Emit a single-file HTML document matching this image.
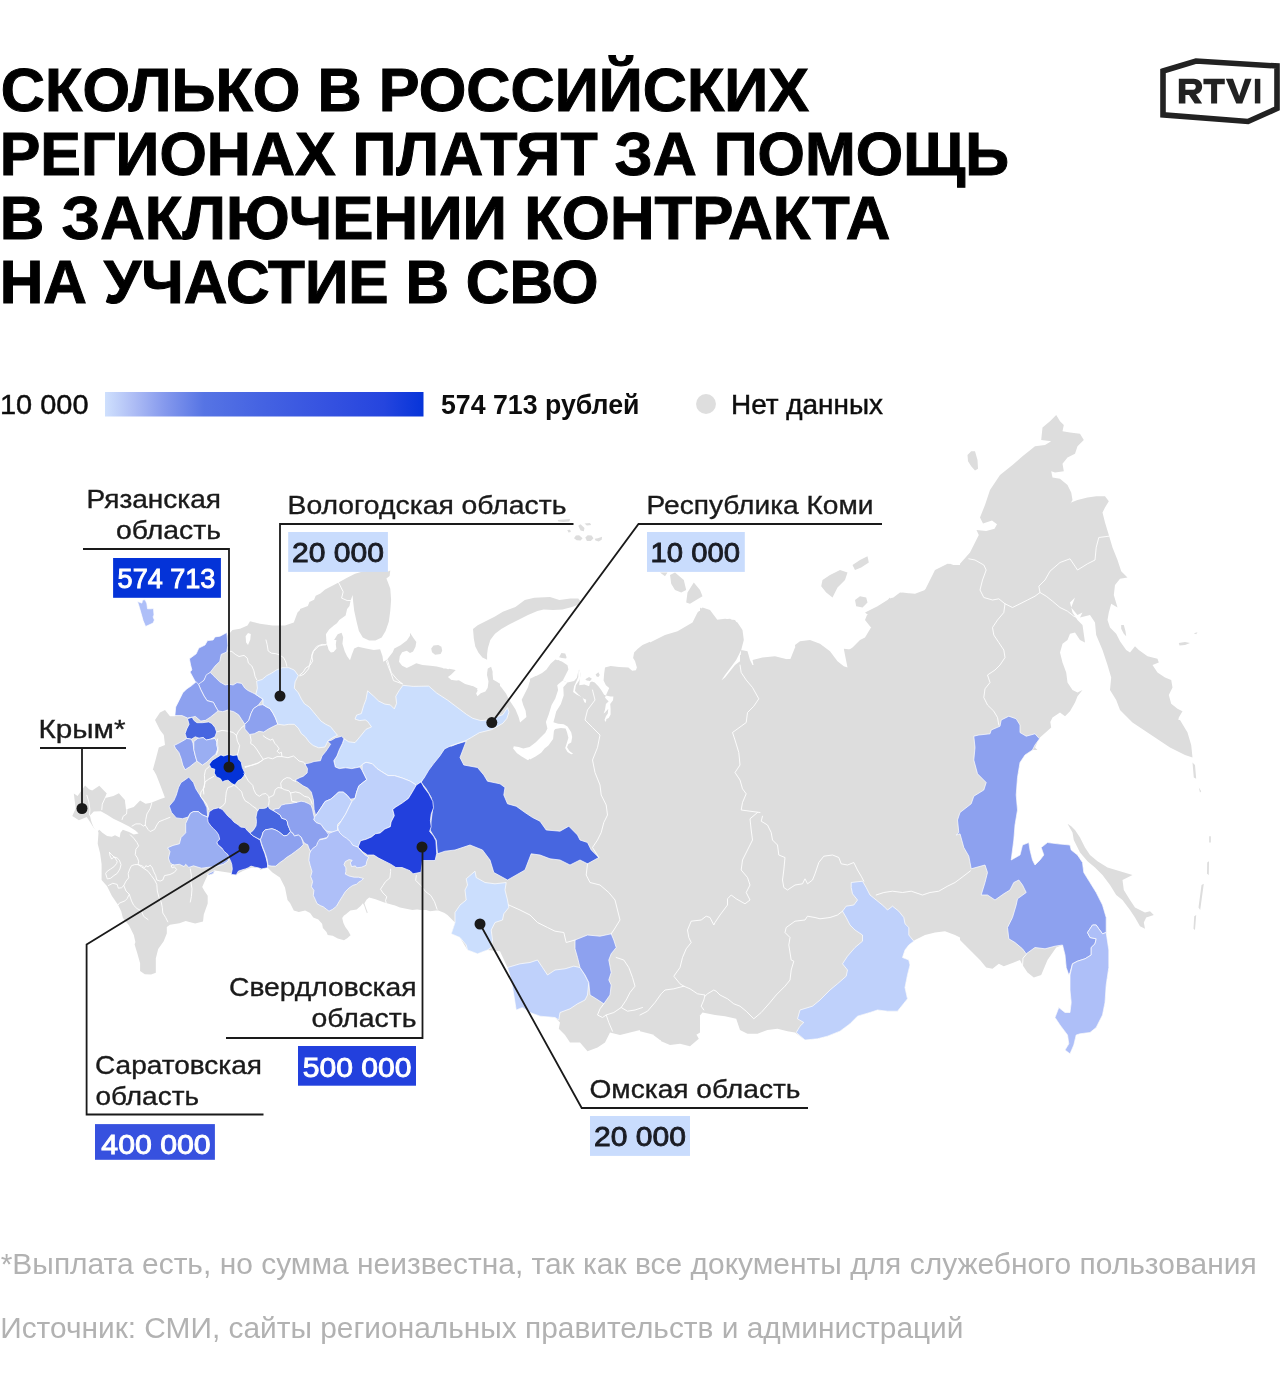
<!DOCTYPE html>
<html lang="ru"><head><meta charset="utf-8"><title>RTVI</title>
<style>
html,body{margin:0;padding:0;background:#fff;}
body{width:1280px;height:1400px;overflow:hidden;position:relative;font-family:"Liberation Sans",sans-serif;}
svg{position:absolute;left:0;top:0;display:block;will-change:transform}
text{font-family:"Liberation Sans",sans-serif;}
.t{font-weight:700;font-size:61.5px;fill:#000;stroke:#000;stroke-width:1px;}
.l{font-size:25.2px;fill:#1a1a1a;stroke:#1a1a1a;stroke-width:.35px}
.lg{font-size:26.8px;fill:#0d0d0d;stroke:#0d0d0d;stroke-width:.45px}
.lgb{font-size:27.3px;fill:#0d0d0d;font-weight:700;}
.v{font-size:26.9px;fill:#1a1c24;stroke:#1a1c24;stroke-width:.85px}
.vw{font-size:26.9px;fill:#fff;stroke:#fff;stroke-width:.9px}
.f{font-size:28.6px;fill:#b2b2b2;}
.ln{fill:none;stroke:#1a1a1a;stroke-width:1.8}
.dot{fill:#1a1a1a}
</style></head><body>
<svg width="1280" height="1400" viewBox="0 0 1280 1400">
<defs><linearGradient id="g" x1="0" x2="1" y1="0" y2="0">
<stop offset="0" stop-color="#cfe0fd"/><stop offset=".09" stop-color="#aebdf5"/><stop offset=".187" stop-color="#8599ed"/><stop offset=".31" stop-color="#5674e4"/><stop offset=".5" stop-color="#4462e2"/><stop offset=".71" stop-color="#3451e0"/><stop offset=".877" stop-color="#2545de"/><stop offset="1" stop-color="#0634d9"/></linearGradient></defs>
<!-- title -->
<text class="t" x="0.8" y="111.3" textLength="808.4" lengthAdjust="spacingAndGlyphs">СКОЛЬКО В РОССИЙСКИХ</text>
<text class="t" x="-0.3" y="175.2" textLength="1009.5" lengthAdjust="spacingAndGlyphs">РЕГИОНАХ ПЛАТЯТ ЗА ПОМОЩЬ</text>
<text class="t" x="-0.3" y="239.4" textLength="890.8" lengthAdjust="spacingAndGlyphs">В ЗАКЛЮЧЕНИИ КОНТРАКТА</text>
<text class="t" x="-0.3" y="303.3" textLength="598.9" lengthAdjust="spacingAndGlyphs">НА УЧАСТИЕ В СВО</text>
<!-- logo -->
<g id="logo">
<path d="M1163,71 L1196,61 L1277,66 L1277,108.5 L1248,121.5 L1163,114.8 Z" fill="none" stroke="#222" stroke-width="5.6" stroke-linejoin="miter"/>
<g transform="translate(1140,40) scale(0.109375)" fill="#222">
<path fill-rule="evenodd" d="M355,355 H490 C545,355 568,390 568,428 C568,462 548,488 512,497 L568,580 H500 L448,502 H415 V580 H355 Z M415,402 V455 H485 C503,455 510,442 510,428 C510,414 503,402 485,402 Z"/>
<path d="M580,355 H775 V405 H705 V580 H650 V405 H580 Z"/>
<path d="M785,355 H850 L907,512 L960,355 H1020 L935,580 H880 Z"/>
<path d="M1050,355 H1100 V580 H1050 Z"/>
</g>
</g>
<!-- legend -->
<text class="lg" x="0" y="413.7" textLength="88.5" lengthAdjust="spacingAndGlyphs">10 000</text>
<rect x="105" y="392" width="318.5" height="24.5" fill="url(#g)"/>
<text class="lgb" x="441" y="413.7" textLength="198.5" lengthAdjust="spacingAndGlyphs">574 713 рублей</text>
<circle cx="706" cy="404" r="9.95" fill="#dedede"/>
<text class="lg" x="731" y="413.7" textLength="152" lengthAdjust="spacingAndGlyphs">Нет данных</text>
<!-- map -->
<g id="map">
<path d="M72.3,815.9 75.7,808.5 73.8,793.6 77.6,795.9 85.1,785.4 89.1,789.2 92.2,790.4 99.3,785.7 106.8,793.6 105.2,798 113.4,795.9 118.9,793.3 124.9,799.9 126,809.6 133.8,806.9 140.1,800.6 145.6,803.8 151.1,802.7 160.5,799.1 164.9,797.5 162.1,790.1 160.5,785.7 156.2,774.7 153.5,770 260,770 260,868.2 251.7,867.4 243.8,870.5 237.5,873.7 236,875.6 231.2,872.9 214.8,870.5 213.2,874 207.7,874.9 205.3,880 202.2,887 204.5,891 207.7,895.7 207.7,903.5 203.8,914.5 203,921.6 195.1,923.5 185.7,921.1 179.4,923.2 170,924.8 166.8,927.1 166.8,933.4 163.7,941.2 158.2,949.1 155.8,958.5 155.8,972.7 151.1,974.6 144.8,974.2 140.1,971.1 140.1,963.2 137,952.2 134.6,944.4 135.4,942 133.8,935 129.1,925.5 122.8,917.7 121.3,911.4 118.1,905.1 111.8,895.7 107.1,886.3 101.6,880 101.6,864.3 100.1,853.3 97.7,843.8 98.5,832.8 97.7,830.5 93.8,828.1 89.9,821.8 86.7,817.1 78.9,820.3ZM152.8,770 156.2,757.5 158.8,747.5 165,745 163.8,735 160,730 155,720 160,712.5 165,710 170,716.2 175,716.2 177.5,705 182.5,695 188.8,688.8 195,684.2 200,685 197.5,676.2 195,670 193.8,660 198.8,657.5 201.2,650 206.2,648 208.8,643.8 215,642.5 217.5,638 222.5,638 228,635 232.5,630 240,628.8 247.5,625.5 250,621.2 260,623.8 272.5,625.5 285,625.5 293.8,622.5 297.5,612.5 300,610 300,770ZM260,760 450,760 450,916.8 444.6,913.1 437.1,909.9 428.3,909.3 420.7,909.9 413.2,908.7 403.1,907.4 393.1,904.9 384.3,902.4 375.5,899.2 369.2,897.4 366.7,899.5 364.4,903.3 366,908 367.7,912.4 366.9,913.3 365.4,909.3 364.2,905.5 362.9,903.3 360.4,906.2 356.6,909.5 350.3,910.6 345.9,914.3 344,915.6 342.2,918.1 343.4,923.1 345.3,926.9 348.1,930.7 350.6,935.3 347.2,938.2 344,940.3 337.8,938.5 332.7,935.7 327.7,935.1 326.5,931.9 322.9,928.1 322.1,923.8 318.3,919.4 313.3,917.5 310.1,913.1 305.1,910.6 298.8,912.1 293.8,910.6 290,903 287.5,900 285,887.6 279.9,877.5 272.5,872.5 267.5,867.4 260,870ZM300,609.1 307.9,606 309.4,602.1 314.1,599.7 315.7,595.8 320.4,593.4 325.1,589.5 331.4,586.3 338.5,582.4 347.1,577.7 355,573.8 362.8,571.4 375.4,570.6 388,571.4 390.3,570.6 389.6,576.1 386.4,578.5 388,582.4 390.3,588.7 391.1,599.7 390.3,610.7 388.8,621.7 385.6,631.1 381.7,637.4 375.4,640.5 369.1,640.5 362.8,637.4 358.9,631.1 356.6,621.7 354.2,610.7 353.1,601.3 352.6,595 350.6,600.5 349.5,606 347.1,609.1 345.6,615.4 339.3,620.1 336.9,623.3 333.8,625.6 329.1,629.6 325.9,634.3 326.7,643.7 329.1,650 333,652.3 334.6,646.8 333.8,640.5 337.7,634.3 341.6,632.7 343.2,637.4 342.4,643.7 344.8,651.5 347.1,656.3 350,660.2 351.8,654.7 354.2,648.4 358.1,646.8 366,648.4 373.8,650 380.1,649.2 382.5,656.3 383.3,661.8 387.2,659.4 389.6,656.3 392.7,652.3 394.3,648.4 400.5,645.3 406.8,640.5 410,635.8 410,632.7 413.1,637.4 416.3,642.1 415.5,646.8 413.1,651.5 410,653.1 406.8,650.8 402.1,652.3 399.8,656.3 399,661.8 402.1,665.7 406.8,668 411.5,665.7 416.3,663.3 422.5,664.9 430.4,665.7 436.7,666.5 443,668 444.5,671.2 449.3,668.8 455.5,670.1 450.8,673.5 446.9,676.7 450.8,679.8 455.5,680.6 460.3,683 466.5,685.3 472.8,686.1 477.5,688.5 476,693.2 477.5,696.3 480.7,693.2 485.4,691.6 487.7,687.7 488.5,681.4 487,675.1 487.7,668.8 490.9,667.3 492.5,673.5 493.2,679.8 496.4,681.4 500,683.8 500,760 300,760ZM431.2,648.4 433.5,645.6 438.3,644.9 441.4,646.8 442.2,650.8 440.6,653.9 435.1,654.7 432,652.3ZM440,668.4 446.3,668.4 449.4,670.8 455.7,670 451,674.7 447.9,677 452.6,681 458.9,680.2 465.1,684.1 471.4,685.7 477.7,690.4 475.3,695.1 477.7,696.7 482.4,693.5 487.1,690.4 488.7,684.1 491.8,681.8 496.6,682.5 501.3,687.3 506,693.5 509.1,699.8 512.3,704.5 515.4,709.3 518.6,717.1 520.1,722.6 526.4,717.1 525.6,710.8 523.3,705.3 521.7,699.8 524.8,693.5 528,687.3 529.6,681.8 534.3,677 542.1,673.1 550,666.8 554.7,660.5 559.4,659.9 559.4,780 440,780ZM473,629.1 477.7,625.2 487.1,620.5 495,616.6 502.8,611.8 515.4,607.1 524.8,600.1 534.3,597.7 550,596.9 559.4,600.1 570.4,598.5 578.3,598.5 580.6,601.6 578.3,604.8 572,607.1 562.5,609.5 553.1,610 543.7,609.5 537.4,611.1 528,615 518.6,619.7 509.1,624.4 501.3,629.1 495,633.8 490.3,640.1 487.9,648 487.1,654.3 487.1,659.8 482.4,657.4 478.5,652.7 475.3,646.4 473.8,638.6ZM487.9,668.4 491.1,666.8 492.6,671.5 492.6,677.8 490.3,681 487.9,677.8 487.1,673.1ZM530,678.7 535.6,675.9 541.2,674.1 545.9,670.3 550.6,663.7 555.3,659.5 561.9,661.4 567.5,665.2 568.4,669.4 565.6,675 562.8,680.6 567.5,682.5 574.1,681.1 576.9,677.8 578.3,671.2 579.2,669.4 580.6,674.1 579.7,679.7 579.2,685.3 584.4,684.4 589.1,686.2 590,682.5 591.9,681.4 594.7,682.5 598.4,686.2 601.2,690 604.1,694.7 605.9,695.6 609.2,688.1 605.9,685.3 603.6,680.6 604.1,674.1 605,667.5 610.6,666.1 619.1,667 628.4,667.5 632.2,670.8 635.9,670.3 636.9,667.5 635,660.9 633.1,658.1 634.1,652.5 637.8,648.7 642.5,645 650,641.7 650,761 530,761ZM559.1,657.2 561.4,653 565.2,653.4 566.6,657.2 566.1,658.6 561.9,658.1ZM585.3,679.2 589.1,676.9 591.9,678.7 590,681.1 586.7,680.6ZM595.6,674.5 598.4,672.2 599.8,675 598.4,676.9 596.6,676.4ZM380,724 700,724 700,770 380,770ZM640,647.5 647.5,643.8 665,635 677.5,631.2 692.5,622.5 697.5,612.5 702.5,607.5 710,610 717.5,620 730,618.8 737.5,622.5 742.5,630 743.8,640 741.2,650 736.2,660 732.5,665 725,675 720,682.5 727.5,677.5 735,667.5 740,662.5 740,655 747.5,651.2 750,660 752.5,665 760,660 775,656.2 790,660 795,647.5 800,642.5 812.5,641.2 822.5,647.5 825,652.5 830,660 840,665 847.5,667.5 845,652.5 852.5,647.5 860,640 865,637.5 872.5,625 871.2,617.5 865,612.5 875,607.5 885,602.5 890,597.5 892.5,610 890,600 900,592.5 915,593.8 925,590 930,580 935,570 947.5,563.8 960,565 960,750 640,750ZM822.5,580 830,575 840,570 847.5,572.5 845,580 837.5,587.5 832.5,597.5 826.2,592.5 821.2,586.2ZM852.5,565 860,560 867.5,556.2 868.8,562.5 861.2,567.5 855,570ZM855,600 860,596.2 866.2,597.5 867.5,602.5 862.5,607.5 856.2,606.2ZM670,575 675,572.5 683.8,580 686.2,590 681.2,592.5 675,590 671.2,583.8ZM687.5,592.5 693.8,582.5 700,590 702.5,596.2 696.2,600 690,603.8 686.2,602.5ZM660,572.5 667.5,572.5 665,576.2ZM574,538.3 575.9,535.5 579.1,535.2 582.6,538.3 580.6,540.6 576.7,540.2ZM585.3,537.5 587.7,535.2 591.6,535.5 593.5,538.3 590.8,541 586.9,541ZM594.7,538.7 597.8,538.3 602.1,536.7 601.7,539.8 598.6,541.4 595.5,540.6ZM557.6,519.9 563.4,519.5 570.1,519.1 569.3,521.5 563.4,521.9 558.4,521.5ZM567.3,530.1 570.1,529.8 570.9,532 568.5,532.4ZM578.3,525.8 580.6,524.2 584.5,528.1 583.8,531.2 580.6,530.5ZM584.5,523.4 590,523 591.2,525 586.9,525.4ZM700,607.5 707.5,613.8 715,620 725,618.8 735,620 742.5,631.2 743.8,640 737.5,652.5 730,665 721.2,677.5 718.8,682.5 725,677.5 735,665 740,661.2 741.2,650 747.5,651.2 746.2,658.8 753.8,666.2 752.5,660 762.5,657.5 775,656.2 775,661.2 785,660 796.2,656.2 795,645 800,641.2 810,640 820,643.8 830,651.2 837.5,661.2 843.8,666.2 847.5,667.5 845,655 843.8,648.8 855,650 862.5,642.5 870,640 875,632.5 870,626.2 865,620 867.5,613.8 877.5,606.2 887.5,600 892.5,597.5 893.8,610 892.5,600 902.5,592.5 912.5,593.8 922.5,592.5 928.8,585 932.5,575 940,567.5 950,563.8 960,567.5 968.8,562.5 972.5,560 1000,560 1000,910 700,910ZM960,563.8 970,552.5 978.8,535 976.5,530 986.2,531 994.5,528.8 997,524.2 992,520.5 983,523.5 980,517.5 985,505 990,490 1000,475 1012.5,465 1022.5,456.2 1028.8,451.2 1035,446.2 1045,445 1051.2,441.2 1041.2,440 1042.5,427.5 1050,421.2 1056.2,415 1060,421.2 1063.8,425 1062.5,431.2 1070,432.5 1080,433.8 1083.8,440 1077.5,446.2 1075,453.8 1067.5,457.5 1062.5,463.8 1063.8,471.2 1055,472.5 1051.2,471.2 1052.5,477.5 1060,478.8 1067.5,485 1071.2,492.5 1072.5,500 1068.8,506.2 1066.2,510 1071.2,502.5 1077.5,500 1087.5,497.5 1096.2,496.2 1105,496.2 1108.8,501.2 1105,507.5 1102.5,512.5 1105,522.5 1108.8,535 1112.5,547.5 1117.5,560 1121.2,571.2 1127.5,577.5 1120,578.8 1115,585 1113.8,595 1117.5,607.5 1111.2,603.8 1108.8,612.5 1107.5,620 1110,627.5 1116.2,633.8 1120,641.2 1126.2,650 1130,652.5 1135,646.2 1138.8,650 1147.5,656.2 1157.5,658.8 1158.8,662.5 1152.5,665 1157.5,672.5 1165,677.5 1171.2,680 1172.5,687.5 1168.8,695 1171.2,703.8 1177.5,708.8 1182.5,711.2 1178.8,717.5 1177.5,725 1183.8,730 1188.8,737.5 1191.2,750 1177.5,750 1165,741.2 1147.5,732.5 1132.5,722.5 1120,710 1116.2,700 1110,690 1111.2,677.5 1107.5,665 1102.5,650 1096.2,635 1095,622.5 1090,615 1080,617.5 1082.5,612.5 1077.5,615 1071.2,607.5 1075,597.5 1070,602.5 1072.5,612.5 1077.5,620 1082.5,625 1085,642.5 1080,640 1075,632.5 1070,633.8 1067.5,640 1062.5,643.8 1060,652.5 1062.5,662.5 1066.2,672.5 1067.5,682.5 1072.5,690 1077.5,692.5 1082.5,690 1077.5,696.2 1075,702.5 1070,711.2 1065,716.2 1060,712.5 1052.5,717.5 1048.8,725 1047.5,730 1040,736.2 1035,747.5 1037.5,750 960,750ZM967.5,455 971.2,451.2 975,451.2 977.5,460 978,468.8 975,470.5 971.2,466.2 968,461.2ZM1178.8,643 1185,642 1190,643 1185,645 1179.5,645.5ZM1121.2,625 1123.8,625 1125.5,631.2 1126.2,636.2 1123.8,633.8 1121.2,628.8ZM1193.8,633.2 1197.5,632.2 1196.2,634.2ZM960,720 1050,720 1051.2,727.5 1040,737.5 1035,745 1032.5,750 1025,755 1020,762.5 1017.5,777.5 1016.2,795 1017.5,810 1015,825 1013.8,840 1012.5,850 1011.2,860 1020,855 1022.5,845 1028.8,842.5 1030,850 1032.5,860 1035,865 1040,860 1043.8,855 1041.2,847.5 1047.5,842.5 1057.5,843.8 1070,845 1071.2,850 1077.5,855 1082.5,862.5 1083.8,872.5 1090,882.5 1096.2,892.5 1102.5,905 1106.2,917.5 1106.2,935 1108.8,950 1108.8,967.5 1106.2,985 1105,1002.5 1102.5,1015 1096.2,1027.5 1090,1032.5 1080,1033.8 1076.2,1035 1073.8,1045 1070,1053.8 1065,1050 1068.8,1043.8 1067.5,1035 1060,1025 1055,1017.5 1058.8,1007.5 1065,1012.5 1070,1012.5 1071.2,1002.5 1070,990 1070,975 1066.2,967.5 1065,955 1062.5,945 1056.2,947.5 1047.5,960 1041.2,975 1033.8,977.5 1027.5,972.5 1022.5,965 1020,960 1013.8,962.5 1003.8,966.2 998.8,963.8 992.5,968.8 986.2,967.5 980,960 972.5,952.5 965,945 960,940ZM1067.5,823.8 1071.2,826.2 1075,830 1080,837.5 1085,847.5 1090,855 1097.5,861.2 1107.5,867.5 1120,871.2 1132.5,875 1122.5,880 1123.8,890 1130,900 1135,907.5 1145,912.5 1150,911.2 1153.8,915 1146.2,917.5 1143.8,922.5 1145,928.8 1140,926.2 1135,917.5 1130,910 1122.5,900 1116.2,895 1110,885 1102.5,875 1095,867.5 1087.5,861.2 1080,852.5 1073.8,840 1072.5,832.5ZM1180,720 1187.5,732.5 1191.2,745 1192.5,757.5 1185,755 1170,747.5 1155,737.5 1140,727.5 1130,720ZM1192.5,762.5 1195,765 1196.2,778.8 1193.8,777.5ZM1198.8,787.5 1201.2,791.2 1200,792.5ZM1209.2,836.2 1210.8,836.2 1210.8,842.5 1209.2,842.5ZM1207.2,862.5 1209,861.2 1208.8,875 1207,873.8ZM1201.5,885 1203.8,883.8 1200.2,910 1198.5,907.5ZM1194.2,916.2 1196.2,915 1195,930 1193.5,928.8ZM640,720 960,720 960,937.5 955,935 945,931.2 935,932.5 925,935 915,940 908.8,945 905,950 902.5,957.5 908.8,960 910,965 907.5,975 905,987.5 907.5,998.8 902.5,1005 897.5,1011.2 887.5,1011.2 877.5,1010 870,1012.5 857.5,1016.2 850,1023.8 840,1031.2 827.5,1036.2 817.5,1038.8 805,1040 795,1032.5 787.5,1031.2 777.5,1028.8 767.5,1030 757.5,1033.8 747.5,1033.8 740,1030 736.2,1018.8 725,1016.2 715,1015 702.5,1012.5 696.2,1020 693.8,1030 698.8,1038.8 690,1046.2 680,1043.8 670,1045 661.2,1041.2 658.8,1036.2 650,1033.8 640,1031.2ZM380,760 700,760 700,1032.5 690,1038.8 680,1042.5 670,1043.8 660,1040 650,1032.5 640,1030 630,1032.5 620,1035 610,1032.5 605,1042.5 597.5,1047.5 587.5,1051.2 580,1042.5 570,1042.5 565,1035 558.8,1028.8 560,1022.5 555,1017.5 540,1016.2 530,1012.5 522.5,1007.5 516.2,1010 512.5,980 507.5,967.5 500,951.2 487.5,950 477.5,953.8 467.5,950 460,937.5 451.2,933.8 455,922.5 447.5,915 440,910 430,911.2 422.5,908.8 412.5,910 400,907.5 387.5,902.5 380,900Z" fill="#dddddd"/>
<path d="M89.9,815.6 93.8,811.6 100.8,811.2 107.1,814.8 113.4,818.7 121.3,822.6 129.1,826.6 135.4,830.5 138.6,833.6 133.8,834.4 129.1,832.1 122.8,829.7 120.5,832.8 119.7,837.6 115,835.2 111.8,836.8 107.1,836 102.4,832.8 99.3,829.7 97.7,831.3 93.8,828.1 91.4,821.8ZM562.8,680.6 567.5,682.5 563.3,687.2 563.7,695.6 560.9,704.1 556.2,711.6 554.8,717.2 553.4,722.3 558.1,723.7 563.7,724.2 567.5,726.6 571.2,732.2 572.2,736.9 571.2,742.5 568.4,743.9 567,747.2 569.4,750.9 573.1,753.7 571.2,754.2 567.5,751.9 565.2,748.1 567,742.5 568.4,737.8 567,732.2 565.6,728.4 560.9,728 555.3,728.9 552.5,732.2 552.5,737.8 549.7,742.5 545,748.1 541.2,752.8 535.6,756.6 530,759.4 530,749.1 535.6,745.3 541.2,739.7 544.1,734.1 547.8,730.3 545.9,721.9 548.7,714.4 551.6,705 555.3,698.4 558.1,690 557.2,685.3 559.1,683.4ZM579.2,669.4 580.6,674.1 579.7,679.7 575.9,685.3 575,690.9 578.7,694.7 583.4,698.4 586.2,699.8 585.8,703.1 584.4,702.2 582.5,697.5 576.9,694.7 573.1,691.9 574.1,686.2 575.9,682.5 578.3,676.9 578.3,671.2ZM605.9,695.6 610.6,696.6 613.4,696.6 613,700.3 610.2,704.1 610.6,708.7 610.6,714.4 608.7,718.1 606.4,719.1 605.9,721.9 604.5,720 605.9,716.2 607.8,713.4 608.3,708.7 605,712.5 603.6,713.4 605,709.7 605.9,704.1 608.7,701.2 606.9,699.8 605,697.5ZM555.5,726.5 553.9,731.2 553.1,739.1 548.4,745.4 540.5,751.7 534.3,754.8 528,760.3 521.7,756.4 517,753.2 513.1,748.5 513.8,746.2 518.6,747 523.3,748.5 529.6,747 535.8,742.2 540.5,737.5 545.3,732.8 548.4,726.5 550,723.4Z" fill="#fff"/>
<path d="M137.5,601.5 141.9,603.1 142.5,600 145.2,599.8 146.9,603.8 147.5,608.8 151.2,608.8 153.5,608.5 154,615 153.1,616.9 154.4,620 153.1,623.1 145.6,626.5 143.1,620.6 141.2,613.8 139.4,607.5Z" fill="#aebff8" stroke="#fff" stroke-width="0.7" stroke-linejoin="round"/>
<path d="M188.8,777.1 193.5,782.6 195.9,788.9 199.8,795.1 203.8,801.4 206.9,807.7 207.7,817.1 202.2,814.8 198.3,811.6 193.5,811.6 190.4,813.2 188,817.1 182.5,818.7 176.3,817.9 171.5,812.4 169.2,806.1 173.9,800.6 176.3,795.1 178.6,787.3 181,782.6 185.7,779.4Z" fill="#647ee8" stroke="#fff" stroke-width="0.7" stroke-linejoin="round"/>
<path d="M193.5,811.6 198.3,811.6 202.2,814.8 207.7,817.1 211.6,823.4 215.5,828.1 218.7,832.1 221,837.6 217.1,843.1 220.3,847 225,850.1 228.9,855.6 228.1,861.1 223.4,864.3 214.8,866.6 207.7,867.4 201.4,868.2 193.5,865.8 188.8,867.4 185.7,864.3 184.1,866.6 179.4,864.3 173.1,865.1 170,862.7 168.4,858 170,851.7 167.6,847.8 173.1,845.4 179.4,843.8 181,837.6 185.7,832.8 185.7,823.4 190.4,813.2Z" fill="#9aaef2" stroke="#fff" stroke-width="0.7" stroke-linejoin="round"/>
<path d="M206.9,874.5 214.8,870.5 213.2,873.7 209.3,874.9Z" fill="#9aaef2" stroke="#fff" stroke-width="0.7" stroke-linejoin="round"/>
<path d="M973.8,736.2 978.8,735 990,733.8 991.2,730 1000,726.2 1001.2,720 1008.8,716.2 1016.2,718.8 1020,725 1020,732.5 1026.2,736.2 1035,733.8 1039.5,738.8 1035,745 1032.5,750 1025,755 1020,762.5 1017.5,777.5 1016.2,795 1017.5,810 1015,825 1013.8,840 1012.5,850 1011.2,860 1020,855 1022.5,845 1028.8,842.5 1030,850 1032.5,860 1035,865 1040,860 1043.8,855 1041.2,847.5 1047.5,842.5 1057.5,843.8 1070,845 1071.2,850 1077.5,855 1082.5,862.5 1083.8,872.5 1090,882.5 1096.2,892.5 1102.5,905 1106.2,917.5 1106.2,932.5 1102.5,933.8 1098.8,928.8 1096.2,925 1092.5,925 1087.5,932.5 1090,937.5 1096.2,938.8 1095,943.8 1091.2,947.5 1091.2,955 1085,958.8 1077.5,961.2 1072.5,963.8 1070,972.5 1068.8,975 1066.2,967.5 1065,955 1062.5,945 1055,946.2 1045,948.8 1035,947.5 1026.2,953.8 1022.5,948.8 1015,942.5 1008.8,938.8 1007.5,927.5 1012.5,917.5 1016.2,905 1017.5,898.8 1026.2,892.5 1022.5,885 1018.8,880 1013.8,882.5 1010,890 1003.8,893.8 995,900 987.5,895 981.2,895 985,882.5 987.5,872.5 985,865 971.2,868.8 968.8,856.2 963.8,847.5 960,833.8 956.2,835 958.8,832.5 957.5,820 960,812.5 971.2,803.8 973.8,796.2 983.8,790 986.2,782.5 977.5,773.8 973.8,760 975,747.5Z" fill="#8da1ef" stroke="#fff" stroke-width="0.7" stroke-linejoin="round"/>
<path d="M1106.2,932.5 1108.8,950 1108.8,967.5 1106.2,985 1105,1002.5 1102.5,1015 1096.2,1027.5 1090,1032.5 1080,1033.8 1076.2,1035 1073.8,1045 1070,1053.8 1065,1050 1068.8,1043.8 1067.5,1035 1060,1025 1055,1017.5 1058.8,1007.5 1065,1012.5 1070,1012.5 1071.2,1002.5 1070,990 1070,975 1072.5,963.8 1077.5,961.2 1085,958.8 1091.2,955 1091.2,947.5 1095,943.8 1096.2,938.8 1090,937.5 1087.5,932.5 1092.5,925 1096.2,925 1098.8,928.8 1102.5,933.8Z" fill="#aebff8" stroke="#fff" stroke-width="0.7" stroke-linejoin="round"/>
<path d="M851.2,882.5 862.5,881.2 866.2,887.5 870,895 876.2,900 883.8,906.2 887.5,910 892.5,906.2 898.8,911.2 903.8,917.5 905,923.8 908.8,927.5 908.8,935 913.8,941.2 908.8,945 905,950 902.5,957.5 908.8,960 910,965 907.5,975 905,987.5 907.5,998.8 902.5,1005 897.5,1011.2 887.5,1011.2 877.5,1010 870,1012.5 857.5,1016.2 850,1023.8 840,1031.2 827.5,1036.2 817.5,1038.8 805,1040 796.2,1032.5 800,1026.2 803.8,1022.5 797.5,1018.8 800,1010 812.5,1006.2 820,1000 830,990 837.5,983.8 846.2,976.2 847.5,970 842.5,963.8 847.5,956.2 855,947.5 862.5,941.2 862.5,935 855,930 850,925 846.2,917.5 842.5,911.2 846.2,906.2 853.8,905 857.5,900 852.5,893.8 851.2,887.5Z" fill="#bfd1fb" stroke="#fff" stroke-width="0.7" stroke-linejoin="round"/>
<path d="M507.5,967.5 520,963.8 530,962.5 537.5,960 542.5,967.5 547.5,975 555,970 565,968.8 573.8,966.2 580,967.5 585,975 588.8,982.5 587.5,995 585,1000 577.5,1003.8 570,1008.8 560,1012.5 558.8,1020 555,1017.5 540,1016.2 530,1012.5 522.5,1007.5 516.2,1010 513.8,995 511.2,980Z" fill="#bfd1fb" stroke="#fff" stroke-width="0.7" stroke-linejoin="round"/>
<path d="M575,940 587.5,935 600,936.2 611.2,933.8 613.8,940 616.2,947.5 611.2,953.8 608.8,960 611.2,972.5 608.8,980 611.2,985 610,995 603.8,1003.8 596.2,998.8 590,995 588.8,982.5 585,975 580,967.5 577.5,957.5 575,948.8Z" fill="#8da1ef" stroke="#fff" stroke-width="0.7" stroke-linejoin="round"/>
<path d="M475,871.2 476.2,877.5 485,882.5 495,883.8 506.2,882.5 505,890 507.5,900 508.8,907.5 503.8,913.8 502.5,920 495,922.5 491.2,930 492.5,940 491.2,947.5 487.5,950 477.5,953.8 467.5,950 466.2,945 460,937.5 451.2,933.8 455,922.5 455,912.5 460,905 466.2,900 465,890 467.5,885 466.2,878.8Z" fill="#cbdefd" stroke="#fff" stroke-width="0.7" stroke-linejoin="round"/>
<path d="M466.2,741.2 460,757.5 463.8,765 477.5,767.5 483.8,775 487.5,781.2 500,783.8 505,787.5 503.8,795 507.5,803.8 516.2,806.2 525,812.5 532.5,817.5 540,821.2 546.2,830 560,831.2 568.8,826.2 577.5,835 580,840 587.5,842.5 591.2,850 598.8,857.5 587.5,863.8 580,860 570,865 560,860 550,858.8 540,855 531.2,853.8 525,870 507.5,880 493.8,872.5 490,860 482.5,850 470,845 455,850 445,851.2 437.5,853.8 436.2,840 430,830 432.5,810 431.2,797.5 426.2,788.8 421.2,782.5 427.5,767.5 440,752.5 446.2,745 451.2,746.2 457.5,743.8Z" fill="#4766e0" stroke="#fff" stroke-width="0.7" stroke-linejoin="round"/>
<path d="M367.6,690.8 373.8,696.3 378.6,701 384.8,704.1 390.3,704.9 394.3,708.9 396.6,703.4 395.8,696.3 399,690.8 402.9,685.3 413.1,686.4 428.8,686.1 436.7,693.1 447.7,700.2 457.1,707.3 466.5,714.4 472.8,718.3 480.7,720.6 488.5,719.9 496.4,716.7 502.8,714.7 507.5,707.6 509,712 506.8,718.6 502.8,723.3 491.8,729.6 479.3,732.7 471.4,737.4 465.9,740.6 450.8,745.8 444.5,748.9 439.8,756 433.5,763.8 428.8,770.1 424.1,778 421,781.9 416.3,785.1 410,781.1 402.1,778 394.3,775.6 388,775.6 381.7,771.7 377,768.6 372.3,763.8 366,762.3 362.1,764.6 359.7,767 351.8,768.6 345.6,767.8 339.3,768.6 335.3,767 333.8,760.7 336.9,756 339.3,749.7 342.4,743.4 344,738.7 348.7,741.8 355,742.6 359.7,737.1 366,729.3 371.5,726.9 367.6,721.4 365.2,719.9 359.7,720.6 355,719.1 356.6,715.1 361.3,713.6 363.6,705.7 366,699.4Z" fill="#cbdefd" stroke="#fff" stroke-width="0.7" stroke-linejoin="round"/>
<path d="M341.6,736.3 344,738.7 342.4,743.4 339.3,749.7 336.9,756 333.8,760.7 335.3,767 339.3,768.6 345.6,767.8 351.8,768.6 359.7,767 362.1,770.1 366.8,779.6 362.8,782.7 358.9,785.8 356.6,792.1 355,798.4 350.3,799.2 347.1,795.3 343.2,792.1 338.5,792.1 335.3,795.3 330.6,799.2 325.1,801.5 322,806.3 318.9,811 315.7,815.7 314.1,809.4 313.4,800 311.3,792.1 307.9,788.2 303.1,785.8 295,780 300,777.5 303.1,776.4 307.1,773 307.5,768.6 304.7,763.8 309.4,763.1 314.1,761.5 320.4,760.7 322,756 325.9,751.3 330.6,744.2 327.5,741.1 331.4,740.3 335.3,737.9Z" fill="#647ee8" stroke="#fff" stroke-width="0.7" stroke-linejoin="round"/>
<path d="M338.5,792.1 343.2,792.1 347.1,795.3 350.3,799.2 351.8,801.5 348.7,807.8 345.6,814.1 341.6,820.4 337.7,824.3 337.4,830.6 333,832.2 326.4,831.1 323.6,828.3 320.9,824.5 316.5,822.8 313.7,819.9 314.3,817.1 315.7,815.7 318.9,811 322,806.3 325.1,801.5 330.6,799.2 335.3,795.3Z" fill="#bfd1fb" stroke="#fff" stroke-width="0.7" stroke-linejoin="round"/>
<path d="M362.1,764.6 366,762.3 372.3,763.8 377,768.6 381.7,771.7 388,775.6 394.3,775.6 402.1,778 410,781.1 416.3,785.1 412.3,792.1 408.4,798.4 402.1,803.1 395.8,807 392.7,809.4 394.3,815.7 391.1,822 390.3,826.7 384.8,829 380.1,833 375.4,833.8 371.5,836.9 366,839.3 360.5,840.8 358.1,847.1 353.4,846.3 350,842.1 345.6,838.9 340.5,834.5 338.3,830.1 337.7,826.7 341.6,820.4 345.6,814.1 348.7,807.8 351.8,801.5 355,798.4 356.6,792.1 358.9,785.8 362.8,782.7 366.8,779.6 362.1,770.1Z" fill="#bfd1fb" stroke="#fff" stroke-width="0.7" stroke-linejoin="round"/>
<path d="M421,781.9 424.1,787.4 428.8,793.7 432.8,801.5 433.5,807.8 431.2,814.1 430.4,820.4 431.2,826.7 429.6,831.4 433.5,836.1 435.9,840.8 436.7,853.4 435.1,860.5 422.5,860.5 421,872.2 413.1,873.8 410,870.7 402.1,867.5 395.8,867.5 391.1,864.4 384.8,861.2 378.6,858.1 373.8,855 367.6,855 362.8,851.8 358.1,847.1 360.5,840.8 366,839.3 371.5,836.9 375.4,833.8 380.1,833 384.8,829 390.3,826.7 391.1,822 394.3,815.7 392.7,809.4 395.8,807 402.1,803.1 408.4,798.4 412.3,792.1 416.3,785.1Z" fill="#2240dd" stroke="#fff" stroke-width="0.7" stroke-linejoin="round"/>
<path d="M326.5,830.7 329,833.3 334,831.4 338.4,830.1 339.6,832.6 342.8,835.8 346.6,838.3 350.3,841.4 352.8,845.2 357.9,847.1 361.6,851.5 365.4,855.2 368.6,857.1 366.7,861.5 366,865.3 361.6,867.2 356.6,867.8 355.4,865.9 351.6,866.6 350.3,862.8 352.2,860.3 349.1,859.6 345.3,861.5 344,864.7 345.9,867.8 345.9,871.6 345.3,874.1 349.1,876 354.1,877.2 358.5,877.2 363.5,878.5 361.6,880.4 358.5,882.3 356.6,884.2 352.8,885.4 349.1,887.9 345.3,891.7 342.2,896.7 339,901.8 336.5,906.2 332.7,909.3 329,911.2 326.5,909.3 323.3,906.8 320.2,905.5 317,903.6 315.1,899.2 313.3,895.5 313.9,890.4 311.4,886.7 312.6,881.6 310.7,876.6 312,871.6 310.1,865.3 308.9,860.3 309.5,854 311.4,849 315.1,846.5 317,843.9 316.4,840.2 321.4,839.5 326.5,838.3 328.3,835.8 325.2,833.9Z" fill="#aebff8" stroke="#fff" stroke-width="0.7" stroke-linejoin="round"/>
<path d="M227.5,640 227.8,645.8 226.8,652 221.2,654.4 219.8,661.4 215,666.1 210.2,672.4 206.4,676.2 204,680.2 198.8,685.2 196.2,683.1 194.4,680 190,671.9 191.9,670 190.6,665 189.4,658.8 196.2,653.8 198.8,648.1 205,645 207.5,640.6 213.1,640 215,636.9 220,636.2 226.9,632.5Z" fill="#8da1ef" stroke="#fff" stroke-width="0.7" stroke-linejoin="round"/>
<path d="M212.6,674.8 215,677.1 219.7,681.8 225.2,685 229.1,684.2 233.1,685 237,682.6 241.7,683.4 244.8,688.1 248,690.5 252.7,692.8 255.8,694.4 260.5,697.6 262.9,699.1 258.2,705.4 253.5,708.6 251.1,713.3 248.8,720.3 244.8,724.3 241.7,719.6 238.6,714.8 233.8,711.7 227.6,710.1 222.8,711.7 218.1,710.9 215.8,707 213.4,702.3 207.1,700.7 204,696 200.8,689.7 198.5,684.2 204,680.3 206.3,674.8 210.3,672.4Z" fill="#8da1ef" stroke="#fff" stroke-width="0.7" stroke-linejoin="round"/>
<path d="M196.1,681.8 198.5,684.2 200.8,689.7 204,696 207.1,700.7 213.4,702.3 215.8,707 218.1,710.9 214.2,714.1 210.3,717.2 205.6,720.3 200.8,721.1 195.3,716.4 192.2,717.2 187.5,718 182,715.6 174.9,715.6 175.7,707 178.9,700.7 182.8,692.8 186.7,688.9 191.4,685.8Z" fill="#8da1ef" stroke="#fff" stroke-width="0.7" stroke-linejoin="round"/>
<path d="M258.2,705.4 262.9,704.6 266.8,707 270,708.6 273.1,713.3 275.5,718 277.8,724.3 273.1,726.6 268.4,729 263.7,732.1 259,731.3 254.3,733.7 249.6,734.5 244.8,729 244.8,724.3 248.8,720.3 251.1,713.3 253.5,708.6Z" fill="#8da1ef" stroke="#fff" stroke-width="0.7" stroke-linejoin="round"/>
<path d="M187.5,718.8 192.2,717.2 193.8,720.3 196.9,722.7 202.4,722.7 208.7,721.9 211.8,723.5 215,727.4 216.6,732.1 215,736.8 210.3,739.2 206.3,740 203.2,737.6 199.3,738.4 195.3,736.8 191.4,739.2 186.7,738.4 185.1,733.7 186.7,729 189.1,724.3Z" fill="#4766e0" stroke="#fff" stroke-width="0.7" stroke-linejoin="round"/>
<path d="M174.1,745.5 178.9,743.1 184.4,740 186.7,738.4 191.4,739.2 193,743.1 193.8,749.4 195.3,755.7 196.9,761.2 193.8,763.5 189.9,766.7 185.1,769.8 182.8,765.1 181.2,758.8 178.9,752.5 175.7,748.6Z" fill="#8da1ef" stroke="#fff" stroke-width="0.7" stroke-linejoin="round"/>
<path d="M193.8,741.5 197.7,738.4 203.2,737.6 206.3,740 210.3,739.2 215,738.4 217.3,743.1 218.1,747.8 215.8,754.1 211.8,757.3 207.1,762 202.4,765.1 199.3,762.8 196.9,761.2 195.3,755.7 193.8,749.4Z" fill="#9aaef2" stroke="#fff" stroke-width="0.7" stroke-linejoin="round"/>
<path d="M209.3,764.3 212.1,760.4 216.5,757.7 220.9,754.9 223.6,756 228.6,754.4 233,755.5 237.4,754.9 238.5,759.3 241.2,762.1 242.3,767.6 245.1,773.6 243.4,776.4 241.2,779.1 237.9,780.8 234.6,785.2 231.3,783 228,780.2 224.7,780.8 222.5,781.9 220.3,778.6 216.5,776.9 214.3,773.1 214.8,769.2 211,768.1Z" fill="#0433d8" stroke="#fff" stroke-width="0.7" stroke-linejoin="round"/>
<path d="M256.6,681.1 262.1,679.5 266.8,675.6 271.5,673.2 276.3,670.1 282.5,667.7 288.8,667.7 294.3,670.1 298.3,675.6 295.1,681.8 294.3,688.1 298.3,692.8 301.4,699.1 304.5,703.8 309.3,707 313.2,711.7 317.1,716.4 321,721.1 325.8,724.3 330.5,726.6 333.6,730.5 337.5,735.3 332.8,737.6 328.1,740.8 326.5,743.9 325,747 318.7,747.8 313.2,745.5 309.3,742.3 305.3,736.8 301.4,733.7 298.3,728.2 294.3,724.3 288.8,724.3 284.1,725.1 278.6,724.3 277.8,724.3 275.5,718 273.1,713.3 270,708.6 266.8,707 262.9,704.6 262.9,699.1 260.5,697.6 255.8,694.4 257.4,688.1Z" fill="#cbdefd" stroke="#fff" stroke-width="0.7" stroke-linejoin="round"/>
<path d="M209.2,811.7 213.6,808.9 218.6,807.8 222.4,809.5 225.2,812.8 227.9,816.1 231.2,818.8 234,822.1 238.4,824.9 240.6,827.1 245,827.6 247.2,830.4 249.9,833.1 253.2,835.9 257.1,838.1 260.4,840.3 261.5,844.7 263.1,849.1 264.8,853.5 266.4,859 267.5,863.9 267.5,867.8 264.8,868.3 261.5,868.9 258.2,867.8 254.9,867.2 251,866.1 248.3,867.8 245.5,868.9 241.7,870 238.4,871.1 236.2,874.9 231.2,874.4 232.3,868.9 231.8,864.5 230.7,861.2 229,857.9 227.9,854.6 224.1,851.3 221.9,848 219.7,846.3 217.5,844.1 216.9,841.9 219.7,839.2 218.6,834.8 216.4,831.5 213.6,828.7 210.9,826 208.1,822.1 207.6,818.3 208.7,815Z" fill="#3751de" stroke="#fff" stroke-width="0.7" stroke-linejoin="round"/>
<path d="M268.1,805.6 269.2,808.4 271.9,810 275.2,811.7 276.9,812.8 280.2,815 281.8,818.3 285.7,819.4 287.3,821.6 287.9,824.9 289.5,828.7 290.6,831.5 287.3,835.3 284,835.9 281.3,833.7 278.5,831.5 275.2,829.8 271.9,828.7 268.6,829.3 265.3,829.8 263.1,832 262,835.9 260.4,839.7 257.1,838.1 253.2,835.9 249.9,833.1 253.2,830.4 256,826 256.5,821.6 256,817.2 257.1,811.7 259.3,808.4 263.7,808.4 266.4,807.8Z" fill="#4766e0" stroke="#fff" stroke-width="0.7" stroke-linejoin="round"/>
<path d="M263.1,832 265.3,829.8 268.6,829.3 271.9,828.7 275.2,829.8 278.5,831.5 281.3,833.7 284,835.9 287.3,835.3 290.6,831.5 292.8,833.1 294.5,835.9 298.3,834.8 301.1,837 302.7,841.4 303.3,844.7 300,848 295.6,851.3 291.2,854.6 286.8,857.3 283.5,860.1 279.6,862.8 275.8,866.1 271.9,866.1 268.1,865.6 267,859 265.3,853.5 263.1,848 261.5,843.6 260.4,839.7 262,835.9Z" fill="#8da1ef" stroke="#fff" stroke-width="0.7" stroke-linejoin="round"/>
<path d="M273,810 275.2,808.9 279.1,808.4 281.3,805.1 285.7,804 291.2,803.4 296.7,802.3 301.1,801.2 304.4,801.8 308.2,803.4 311,805.1 312.6,809.5 313.2,812.8 314.3,817.2 313.7,819.9 316.5,822.7 320.9,824.3 323.6,828.2 326.4,831.5 328.6,834.8 326.9,837.5 323.1,838.6 319.8,839.2 317.6,842.5 316.5,845.8 313.2,848 310.4,851.3 308.8,848 307.7,844.7 304.9,843.6 303.3,841.4 301.1,837 298.3,834.8 294.5,835.9 292.8,833.1 290.6,831.5 289.5,828.7 287.9,824.9 287.3,821.6 285.7,819.4 281.8,818.3 280.2,815 276.9,812.8 275.2,811.7Z" fill="#8da1ef" stroke="#fff" stroke-width="0.7" stroke-linejoin="round"/>
<path d="M740,665 741.2,672.5 746.2,680 752.5,687.5 758.8,698.8 753.8,706.2 747.5,712.5 746.2,722.5 741.2,726.2 732.5,732.5 735,740 738.8,752.5 740,765 735,772.5 740,780 742.5,788.8 746.2,793.8 742.5,802.5 741.2,810 750,811.2 760,812.5M757.5,812.5 750,818.8 751.2,830 752.5,840 747.5,850 742.5,860 741.2,870 747.5,877.5 750,885 746.2,892.5 750,900 745,903.8 736.2,898.8 731.2,895 727.5,898.8 727.5,905 720,915 715,922.5 713.8,925 710,917.5 706.2,916.2 701.2,920 691.2,921.2 687.5,930 688.8,937.5 691.2,942.5 686.2,948.8 682.5,957.5 680,967.5 673.8,976.2 680,983.8 683.8,986.2 690,988.8 697.5,993.8 705,995 703.8,1000 701.2,1006.2 703.8,1010M762.5,816.2 761.2,821.2 767.5,825 771.2,832.5 772.5,840 777.5,845 778.8,855 785,857.5 783.8,870 782.5,880 783.8,887.5 787.5,890 795,885 802.5,883.8 805,878.8 807.5,883.8 812.5,880 815,873.8 818.8,862.5 823.8,856.2 832.5,855 838.8,857.5 841.2,863.8 847.5,865 853.8,862.5 857.5,870 861.2,876.2 863.8,881.2M842.5,911.2 837.5,915 830,917.5 820,918.8 815,917.5 807.5,916.2 805,920 795,921.2 786.2,927.5 785,932.5 790,937.5 788.8,945 791.2,960 793.8,961.2 791.2,970 790,980 785,986.2 776.2,995 770,1002.5 761.2,1012.5 753.8,1018.8 750,1015 746.2,1011.2 740,1006.2 733.8,1003.8 727.5,998.8 720,995 716.2,991.2 713.8,990 707.5,993.8 705,996.2M640,1015 647.5,1011.2 655,1002.5 661.2,993.8 665,990 673.8,988.8 683.8,986.2M876.2,895 883.8,892.5 892.5,891.2 902.5,892.5 911.2,891.2 922.5,895 930,892.5 938.8,891.2 947.5,886.2 955,882.5 960,878.8 965,875 970.5,870.8M968.8,558.8 975,560 983.8,565 986.2,570 982.5,580 980,590 983.8,597.5 992.5,600 998.8,598.8 1005,603.8 1012.5,607.5 1020,603.8 1027.5,600 1035,596.2 1040,592.5 1038.8,586.2 1045,580 1050,571.2 1060,562.5 1070,558.8 1075,566.2 1077.5,570 1087.5,563.8 1095,560 1096.2,547.5 1098.8,537.5 1108.8,536.2M1040,592.5 1046.2,596.2 1052.5,601.2 1060,607.5 1067.5,611.2 1073.8,616.2 1080,618.8M1005,603.8 1003.8,612.5 997.5,620 992.5,627.5 993.8,635 998.8,642.5 1003.8,650 1005,657.5 1000,665 995,670 987.5,675 990,682.5 985,688.8 983.8,697.5 987.5,705 993.8,711.2 997.5,717.5 998.8,725M592.5,690 595,700 587.5,710 585,720 592.5,727.5 600,735 597.5,747.5 592.5,760 595,772.5 600,785 601.2,795 606.2,805 607.5,815 603.8,822.5 601.2,832.5 597.5,840 592.5,847.5 598.8,857.5M587.5,863.8 586.2,875 590,882.5 600,885 608.8,892.5 615,900 617.5,910 620,920 613.8,930 611.2,933.8M387.5,660 391.2,672.5 397.5,680 402.5,683.8M227.5,651 231.9,651.5 235.2,654.3 239,656.5 244,655.4 247.3,658.1 248.4,663.1 251.7,665.8 253.9,670.8 255,676.3 256.6,679.6M266,640 267.1,644.4 268.2,651 271.5,653.2 275.9,653.7 279.2,654.8 283.6,657.6 285.8,662 286.9,666.4M332,640 328.7,642.7 325.4,644.9 322.1,644.4 318.8,645.5 316.6,646.6 313.3,651 311.6,655.4 312.7,660.9 310,665.3 305.6,668 303.4,671.9 299.5,675.2M217,731.8 222,730.4 227.5,731.1 233,732.4 236.8,735.7M244,725.8 242.3,726.9 238.5,731.3 236.3,735.7 237.4,741.2 239.6,745.6 238.5,751.1 237.4,754.9M250,735.1 251.1,740.1 250.6,743.4 253.9,745.6 257.2,750 259.9,754.4 263.2,759.3M263.2,735.7 266,737.9 270.4,740.1 272.6,739 274.8,743.4 277,745.6 279.2,748.9 277,751.1 279.2,753.3 281.4,752.2 281.9,756.6M245.1,767.6 250.6,765.4 257.2,763.2 261.6,761 263.2,759.3 268.2,757.7 272.6,758.8 277,756.6 281.9,756.6 288,757.7 293.5,756 296.8,758.8 299,761 303.4,762.1 305.6,764.3M209.3,766.5 205.5,769.8 204.4,775.3 204.9,783 203.3,788.5 203.8,794M217.6,739 216.5,744.5 218.1,750 216.5,754.4M86.9,795.3 88.8,801.9 89.9,809.6 89.5,815.1M107.3,793.6 105.1,798 102.3,804.1 101.8,809.6M126,801.9 127.1,807.4 126.5,814 123.2,816.2 122.1,819.5M151.8,803 150.2,808.5 146.9,814 145.8,819.5 145.2,825 148,829.4 150.2,831.6 154.6,829.4 156.8,825 159,821.7 164.5,819.5 170,817.3M132,826.1 135.9,823.9 140.3,823.9 143.6,826.1 145.2,825M130.4,834.9 133.7,838.2 137,842.6 138.6,845.9 135.9,849.2 135.3,854.7 137.5,858 138.6,861.3 138.1,864.6 141.4,866.8 144.7,869 148,871.2 151.3,875.6 154.6,880 156.8,884.4 157.3,891 159,897.6 161.2,902 162.3,907.5 162.8,913 165.6,917.4 167.8,921.8M138.1,864.6 141.9,865.7 144.7,867.9 145.8,865.7 148,866.8 150.2,865.1 152.4,867.9 153.5,871.2 155.7,875.6 156.8,880 160.1,881.1 162.8,880 164.5,875.6 170,874.5 174.4,872.3 176.6,869.5 174.4,866.8 172.2,867.9 171.1,865.7 173.3,864.6M109.5,852.5 111.7,854.7 115,858 117.2,861.3 116.6,863.5 113.9,866.8 110.6,869 107.3,871.2 105.6,873.4 107.3,878.9 110.6,878.3 113.9,875.6 117.2,873.4 119.9,869 121,864.6 119.4,860.2 117.2,858 113.9,856.9 111.7,859.1 110,855.8 109.5,852.5M108.4,885.5 112.8,883.3 117.2,884.4 118.3,888.2 121.6,887.7 123.8,885.5 126,881.1 128.7,877.8 128.2,873.4 129.8,869 131.5,865.7 134.8,864.6 138.1,864.6M123.8,885.5 126,891 129.3,894.3 127.1,898.7 124.9,900.9 119.4,903.1 118.3,904.7M129.3,894.3 131.5,900.9 133.7,905.3 137,908.6 141.4,910.8 143.6,916.3 148,919.6M190.3,869 191.4,875.6 190.9,882.2 192,888.8 191.4,896.5 190.3,902M390.6,869.1 390.6,871.6 389.9,877.9 385.5,881.6 383,885.4 380.5,889.2 383,893 386.8,896.7 385.5,900.5 386.2,903M416.3,875.4 415.7,880.4 420.7,885.4 425.7,891.7 430.8,895.5 434.5,901.8 437.1,909.3M338.5,582.4 343.2,591.8 341.6,598.1 347.1,600.5 350.6,600.5M325.9,644.5 318.9,646 313.4,651.5 311,659.4 308.6,668.8 303.9,674.3 300,675.9M386.4,661 388,665.7 391.1,673.5 393.5,680.6 402.1,683.8M234,784.7 231.8,786.4 227.9,787.5 226.3,791.9 225.7,797.4 225.2,802.9 222.4,806.2 219.7,807.8M213.6,776.5 208.7,779.2 204.8,782 204.3,787.5 201,791.9 200.4,796.3 203.2,799.6 206.5,804 208.7,809.5M234,784.7 238.4,788.6 241.7,791.9 242.8,796.3 245,800.7 249.4,803.4 252.7,806.2 256,808.4 257.6,810.6M243.9,773.2 248.3,780.9 252.7,785.3 253.8,789.7 256,794.1 259.3,796.3 262.6,794.1 265.9,793.5 268.6,796.3 269.2,800.7 268.6,805.1M269.2,797.4 273.6,795.2 275.2,789.7 278,787.5 281.3,788 284.6,789.7 289,790.8 290.6,793 291.2,797.4 291.7,801.2 296.7,802.3M281.3,788 280.7,783.1 282.9,779.8 286.8,777.6 290.1,778.1 292.8,780.3 295.6,781.4M290.6,793 295.6,791.9 300,793 304.4,796.3 308.8,797.4 311,800.7 312.1,804M245,766.6 251.6,765.5 258.2,763.3 262.6,760M1026.2,954.5 1023,958.2 1022.5,966.2M508.8,905 520,910 530,915 537.5,922.5 547.5,927.5 555,931.2 563.8,932.5 566.2,942.5 575,940M616.2,957.5 623.8,960 628.8,967.5 632.5,977.5 635,986.2 630,992.5 626.2,1000 621.2,1007.5M603.8,1003.8 600,1008.8 597.5,1015 602.5,1017.5 606.2,1015 613.8,1012.5 621.2,1007.5 627.5,1011.2 635,1010 642.5,1007.5M606.2,1015 608.8,1022.5 612.5,1031.2" fill="none" stroke="#fff" stroke-width="0.9" stroke-linejoin="round" stroke-linecap="round"/>
<path d="M326.5,640 336.4,640 335.8,644.4 336.4,648.8 333.6,652.1 330.9,652.6 328.7,649.9 327.6,645.5ZM245.6,636.3 248,633.1 250.8,633.9 250.3,639.4 248,644.9 246.1,642.6Z" fill="#fff"/>
</g>
<!-- leader lines -->
<path class="ln" d="M83,549 H229 V767"/>
<path class="ln" d="M573.5,524 H280 V696"/>
<path class="ln" d="M882,524 H638.5 L491.8,722.6"/>
<path class="ln" d="M40,748 H126 M82,748 V808"/>
<path class="ln" d="M226,1038 H422.5 V847"/>
<path class="ln" d="M263.5,1114.5 H86.6 V944.5 L244,848"/>
<path class="ln" d="M808,1108 H581.7 L480,924"/>
<circle class="dot" cx="229" cy="767" r="5.5"/><circle class="dot" cx="280" cy="696" r="5.5"/>
<circle class="dot" cx="491.8" cy="722.6" r="5.5"/><circle class="dot" cx="82" cy="808.5" r="5.5"/>
<circle class="dot" cx="422" cy="847" r="5.5"/><circle class="dot" cx="244" cy="848" r="5.5"/>
<circle class="dot" cx="480" cy="924" r="5.5"/>
<!-- labels -->
<text class="l" x="221" y="508.1" text-anchor="end" textLength="134.5" lengthAdjust="spacingAndGlyphs">Рязанская</text>
<text class="l" x="221" y="538.9" text-anchor="end" textLength="105" lengthAdjust="spacingAndGlyphs">область</text>
<rect x="113.1" y="558" width="107.8" height="39.8" fill="#0433d8"/>
<text class="vw" x="117.6" y="588" textLength="97.8" lengthAdjust="spacingAndGlyphs">574 713</text>

<text class="l" x="287.5" y="513.8" textLength="279" lengthAdjust="spacingAndGlyphs">Вологодская область</text>
<rect x="288.2" y="532" width="99.7" height="39.9" fill="#c9dcfd"/>
<text class="v" x="292" y="561.8" textLength="92" lengthAdjust="spacingAndGlyphs">20 000</text>

<text class="l" x="646.5" y="513.8" textLength="227" lengthAdjust="spacingAndGlyphs">Республика Коми</text>
<rect x="647" y="532" width="97.8" height="39.9" fill="#c9dcfd"/>
<text class="v" x="650.5" y="561.8" textLength="89.5" lengthAdjust="spacingAndGlyphs">10 000</text>

<text class="l" x="38.5" y="737.8" textLength="87" lengthAdjust="spacingAndGlyphs">Крым*</text>

<text class="l" x="416.5" y="996.4" text-anchor="end" textLength="187.5" lengthAdjust="spacingAndGlyphs">Свердловская</text>
<text class="l" x="416.5" y="1027.4" text-anchor="end" textLength="105" lengthAdjust="spacingAndGlyphs">область</text>
<rect x="298" y="1046" width="118" height="39.7" fill="#2240dd"/>
<text class="vw" x="302.8" y="1076.5" textLength="108.6" lengthAdjust="spacingAndGlyphs">500 000</text>

<text class="l" x="95" y="1073.9" textLength="167" lengthAdjust="spacingAndGlyphs">Саратовская</text>
<text class="l" x="95.5" y="1104.9" textLength="103.5" lengthAdjust="spacingAndGlyphs">область</text>
<rect x="95" y="1124.1" width="119.9" height="35.7" fill="#3751df"/>
<text class="vw" x="101.3" y="1154.1" textLength="109.4" lengthAdjust="spacingAndGlyphs">400 000</text>

<text class="l" x="589.5" y="1097.9" textLength="211" lengthAdjust="spacingAndGlyphs">Омская область</text>
<rect x="590" y="1116" width="100" height="39.9" fill="#c9dcfd"/>
<text class="v" x="594" y="1146" textLength="92" lengthAdjust="spacingAndGlyphs">20 000</text>
<!-- footer -->
<text class="f" x="0.7" y="1273.7" textLength="1256" lengthAdjust="spacingAndGlyphs">*Выплата есть, но сумма неизвестна, так как все документы для служебного пользования</text>
<text class="f" x="0.2" y="1338.2" textLength="963.3" lengthAdjust="spacingAndGlyphs">Источник: СМИ, сайты региональных правительств и администраций</text>
</svg>
</body></html>
